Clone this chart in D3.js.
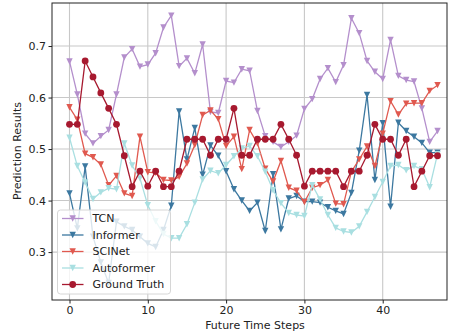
<!DOCTYPE html>
<html><head><meta charset="utf-8">
<script src="https://cdn.jsdelivr.net/npm/d3@7"></script>
<style>body{margin:0;background:#fff}svg{display:block}text{font-family:"DejaVu Sans",sans-serif}</style>
</head><body>
<svg id="c" width="449" height="335"></svg>
<script>
const steps = d3.range(48);
const tcn = [0.670,0.606,0.530,0.511,0.525,0.537,0.606,0.678,0.694,0.660,0.664,0.686,0.736,0.759,0.661,0.676,0.647,0.703,0.572,0.570,0.632,0.629,0.655,0.652,0.574,0.525,0.514,0.504,0.514,0.526,0.578,0.597,0.636,0.657,0.630,0.663,0.754,0.725,0.671,0.650,0.636,0.712,0.642,0.634,0.631,0.579,0.514,0.535];
const informer = [0.414,0.346,0.466,0.330,0.280,0.240,0.359,0.350,0.343,0.330,0.317,0.310,0.343,0.390,0.573,0.480,0.541,0.450,0.507,0.487,0.457,0.422,0.400,0.380,0.396,0.341,0.451,0.344,0.404,0.409,0.398,0.398,0.396,0.387,0.380,0.374,0.415,0.497,0.605,0.440,0.550,0.388,0.551,0.535,0.524,0.512,0.493,0.493];
const scinet = [0.581,0.557,0.491,0.484,0.470,0.430,0.448,0.414,0.409,0.524,0.455,0.454,0.440,0.439,0.446,0.472,0.508,0.566,0.575,0.558,0.506,0.524,0.461,0.537,0.511,0.462,0.437,0.477,0.425,0.419,0.397,0.425,0.430,0.440,0.394,0.393,0.456,0.480,0.505,0.467,0.530,0.593,0.567,0.588,0.589,0.589,0.613,0.624];
const autoformer = [0.522,0.467,0.435,0.403,0.416,0.424,0.422,0.511,0.468,0.443,0.391,0.360,0.335,0.327,0.327,0.354,0.396,0.441,0.458,0.453,0.469,0.486,0.501,0.506,0.486,0.456,0.420,0.395,0.376,0.372,0.370,0.430,0.402,0.372,0.347,0.340,0.338,0.350,0.378,0.407,0.436,0.467,0.469,0.459,0.467,0.461,0.426,0.490];
const groundTruth = [0.548,0.548,0.671,0.640,0.609,0.579,0.548,0.487,0.427,0.457,0.428,0.457,0.427,0.427,0.457,0.519,0.519,0.519,0.488,0.519,0.519,0.579,0.488,0.488,0.519,0.519,0.519,0.548,0.519,0.488,0.428,0.457,0.457,0.457,0.457,0.427,0.457,0.457,0.488,0.548,0.519,0.519,0.488,0.519,0.427,0.457,0.487,0.487];
const xTicks = [0,10,20,30,40];
const yTicks = [0.3,0.4,0.5,0.6,0.7];
const seriesNames = ["TCN","Informer","SCINet","Autoformer","Ground Truth"];
const seriesColors = ["#b48fcc","#3c78a0","#e0594f","#a9dfe1","#a7192f"];
const seriesMarkers = ["tri","tri","tri","tri","circle"];
const seriesData = [tcn, informer, scinet, autoformer, groundTruth];

const L = 52, R = 447, T = 3, B = 300;
const FS = 11;
const svg = d3.select("#c");
const x = d3.scaleLinear().domain([-2.235, 48.21]).range([L, R]);
const y = d3.scaleLinear().domain([0.207, 0.7835]).range([B, T]);

// grid
const g = svg.append("g");
g.selectAll(".gx").data(xTicks).join("line")
  .attr("x1", d => x(d)).attr("x2", d => x(d)).attr("y1", T).attr("y2", B)
  .attr("stroke", "#c8c8c8").attr("stroke-width", 1.1);
g.selectAll(".gy").data(yTicks).join("line")
  .attr("x1", L).attr("x2", R).attr("y1", d => y(d)).attr("y2", d => y(d))
  .attr("stroke", "#c8c8c8").attr("stroke-width", 1.1);

// axes
const xAxis = svg.append("g").attr("transform", `translate(0,${B})`)
  .call(d3.axisBottom(x).tickValues(xTicks).tickFormat(d3.format("d")).tickSize(3.5).tickPadding(2.5));
const yAxis = svg.append("g").attr("transform", `translate(${L},0)`)
  .call(d3.axisLeft(y).tickValues(yTicks).tickFormat(d3.format(".1f")).tickSize(3.5).tickPadding(2.5));
[xAxis, yAxis].forEach(a => {
  a.select(".domain").remove();
  a.selectAll("text").attr("font-size", FS).attr("fill", "#222").attr("font-family", "DejaVu Sans");
  a.selectAll("line").attr("stroke", "#222");
});

const tri = r => `M0,${r}L${-r},${-r}L${r},${-r}Z`;

// lines
seriesData.forEach((data, i) => {
  const gs = svg.append("g");
  gs.append("path").datum(data)
    .attr("d", d3.line().x((d, j) => x(steps[j])).y(d => y(d)))
    .attr("fill", "none").attr("stroke", seriesColors[i]).attr("stroke-width", 1.3);
  if (seriesMarkers[i] === "tri") {
    gs.selectAll("path.m").data(data).join("path").attr("class", "m")
      .attr("d", tri(3.2))
      .attr("transform", (d, j) => `translate(${x(steps[j])},${y(d)})`)
      .attr("fill", seriesColors[i]);
  } else {
    gs.selectAll("circle").data(data).join("circle")
      .attr("cx", (d, j) => x(steps[j])).attr("cy", d => y(d)).attr("r", 3.4)
      .attr("fill", seriesColors[i]);
  }
});

// frame
svg.append("rect").attr("x", L).attr("y", T).attr("width", R - L).attr("height", B - T)
  .attr("fill", "none").attr("stroke", "#222").attr("stroke-width", 1);

// legend
const lg = svg.append("g");
lg.append("rect").attr("x", 57.5).attr("y", 210).attr("width", 113).attr("height", 84).attr("rx", 3)
  .attr("fill", "#fff").attr("fill-opacity", 0.8).attr("stroke", "#d6d6d6");
seriesNames.forEach((name, i) => {
  const cy = 218.5 + i * 16.5;
  lg.append("line").attr("x1", 62).attr("x2", 83.5).attr("y1", cy).attr("y2", cy)
    .attr("stroke", seriesColors[i]).attr("stroke-width", 1.3);
  if (seriesMarkers[i] === "tri") {
    lg.append("path").attr("d", tri(3.2)).attr("transform", `translate(72.7,${cy})`).attr("fill", seriesColors[i]);
  } else {
    lg.append("circle").attr("cx", 72.7).attr("cy", cy).attr("r", 3.4).attr("fill", seriesColors[i]);
  }
  lg.append("text").attr("x", 92.5).attr("y", cy).attr("dy", "0.36em")
    .attr("font-size", FS).attr("fill", "#222").text(name);
});

// axis labels
svg.append("text").attr("x", 255).attr("y", 329).attr("text-anchor", "middle")
  .attr("font-size", FS).attr("fill", "#222").text("Future Time Steps");
svg.append("text").attr("transform", "translate(21,151) rotate(-90)").attr("text-anchor", "middle")
  .attr("font-size", FS).attr("fill", "#222").text("Prediction Results");
</script>
</body></html>
